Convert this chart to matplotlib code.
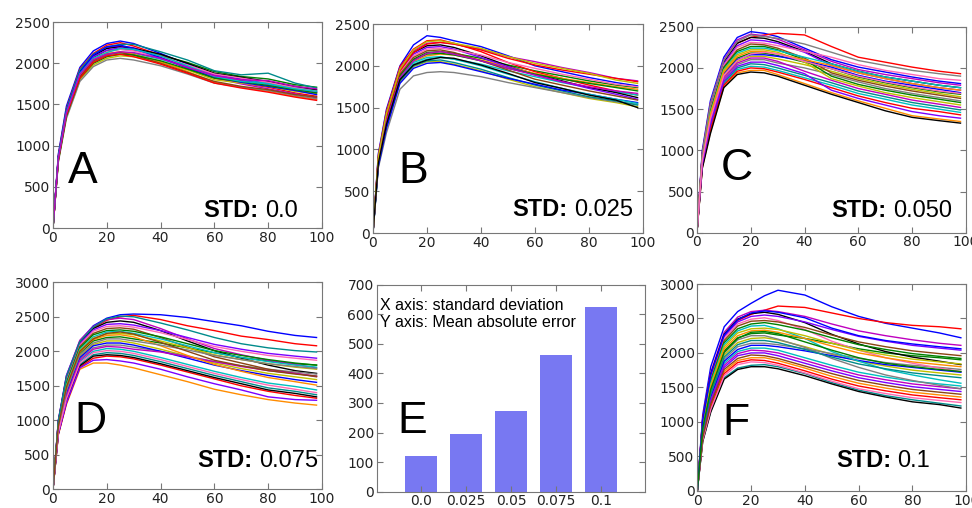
import matplotlib.pyplot as plt

# sample points along the x axis (shared by every curve)
x_pts = [0, 2, 5, 10, 15, 20, 25, 30, 40, 50, 60, 70, 80, 90, 98]

curves_a = [
    [0, 900, 1480, 1950, 2150, 2240, 2270, 2240, 2120, 1990, 1860, 1810, 1760, 1690, 1650],
    [0, 850, 1400, 1870, 2070, 2150, 2170, 2160, 2100, 2010, 1900, 1840, 1810, 1740, 1710],
    [0, 880, 1450, 1930, 2120, 2220, 2250, 2210, 2100, 1960, 1830, 1760, 1710, 1640, 1600],
    [0, 830, 1370, 1830, 2020, 2100, 2130, 2120, 2050, 1950, 1850, 1790, 1760, 1700, 1670],
    [0, 870, 1430, 1910, 2100, 2190, 2210, 2190, 2080, 1940, 1820, 1750, 1690, 1630, 1580],
    [0, 810, 1350, 1800, 1980, 2060, 2090, 2080, 2010, 1920, 1800, 1760, 1720, 1660, 1630],
    [0, 860, 1420, 1900, 2090, 2180, 2200, 2180, 2110, 2000, 1880, 1830, 1780, 1720, 1680],
    [0, 840, 1380, 1850, 2040, 2120, 2140, 2110, 2020, 1900, 1770, 1710, 1660, 1600, 1560],
    [0, 850, 1410, 1880, 2080, 2160, 2190, 2170, 2060, 1960, 1860, 1790, 1740, 1680, 1650],
    [0, 800, 1330, 1780, 1960, 2040, 2060, 2040, 1970, 1870, 1760, 1710, 1670, 1610, 1570],
    [0, 840, 1390, 1860, 2050, 2140, 2170, 2150, 2080, 1980, 1870, 1820, 1770, 1700, 1660],
    [0, 870, 1440, 1920, 2110, 2200, 2230, 2230, 2140, 2040, 1910, 1860, 1880, 1760, 1700],
    [0, 830, 1380, 1840, 2030, 2110, 2130, 2100, 2000, 1890, 1780, 1720, 1680, 1620, 1590],
    [0, 860, 1420, 1890, 2100, 2200, 2220, 2180, 2070, 1940, 1830, 1770, 1720, 1670, 1620],
    [0, 820, 1360, 1820, 2000, 2080, 2110, 2100, 2030, 1930, 1820, 1780, 1730, 1680, 1640],
    [0, 830, 1370, 1820, 2010, 2090, 2110, 2080, 1990, 1880, 1760, 1700, 1650, 1590, 1550],
    [0, 855, 1405, 1875, 2060, 2130, 2180, 2170, 2090, 1970, 1840, 1780, 1750, 1690, 1660],
    [0, 845, 1395, 1865, 2045, 2110, 2140, 2130, 2060, 1950, 1850, 1800, 1790, 1720, 1690],
]

curves_b = [
    [0, 950, 1480, 2000, 2250, 2360, 2340, 2300, 2230, 2120, 2000, 1930, 1860, 1800, 1760],
    [0, 860, 1360, 1890, 2080, 2160, 2170, 2150, 2090, 2010, 1940, 1880, 1820, 1770, 1740],
    [0, 930, 1460, 1990, 2200, 2300, 2310, 2270, 2170, 2040, 1930, 1850, 1770, 1700, 1650],
    [0, 830, 1310, 1840, 2020, 2080, 2100, 2080, 2020, 1940, 1870, 1800, 1740, 1690, 1650],
    [0, 920, 1440, 1970, 2180, 2270, 2280, 2260, 2200, 2110, 2050, 1980, 1920, 1850, 1820],
    [0, 810, 1270, 1810, 1990, 2050, 2050, 2020, 1940, 1840, 1750, 1680, 1610, 1560, 1510],
    [0, 900, 1420, 1950, 2160, 2240, 2250, 2220, 2120, 2000, 1900, 1820, 1740, 1680, 1620],
    [0, 850, 1340, 1870, 2050, 2120, 2140, 2130, 2070, 1990, 1910, 1850, 1800, 1750, 1720],
    [0, 890, 1400, 1930, 2140, 2220, 2230, 2200, 2100, 1990, 1890, 1810, 1730, 1660, 1600],
    [0, 780, 1200, 1720, 1880, 1920, 1930, 1920, 1870, 1800, 1740, 1680, 1620, 1570, 1540],
    [0, 880, 1390, 1920, 2120, 2200, 2210, 2190, 2130, 2040, 1970, 1900, 1840, 1780, 1750],
    [0, 820, 1290, 1820, 2000, 2060, 2070, 2040, 1960, 1860, 1770, 1700, 1630, 1580, 1530],
    [0, 870, 1370, 1900, 2100, 2180, 2190, 2160, 2060, 1950, 1840, 1770, 1700, 1640, 1590],
    [0, 800, 1250, 1790, 1970, 2030, 2040, 2010, 1930, 1850, 1780, 1710, 1660, 1600, 1560],
    [0, 860, 1350, 1880, 2070, 2140, 2150, 2130, 2060, 1970, 1900, 1840, 1790, 1740, 1700],
    [0, 880, 1400, 1940, 2160, 2260, 2280, 2260, 2190, 2090, 2010, 1950, 1900, 1850, 1810],
    [0, 840, 1320, 1850, 2040, 2100, 2110, 2080, 2000, 1900, 1810, 1730, 1660, 1600, 1550],
    [0, 850, 1340, 1860, 2060, 2150, 2170, 2140, 2060, 1970, 1890, 1810, 1750, 1700, 1670],
    [0, 910, 1430, 1960, 2190, 2290, 2300, 2270, 2210, 2110, 2030, 1970, 1910, 1830, 1790],
    [0, 835, 1300, 1835, 2010, 2070, 2100, 2090, 2010, 1910, 1800, 1730, 1650, 1590, 1500],
]

curves_c = [
    [0, 1000, 1600, 2130, 2370, 2440, 2420, 2380, 2240, 2100, 2010, 1950, 1890, 1840, 1810],
    [0, 880, 1410, 1940, 2120, 2180, 2180, 2150, 2070, 1990, 1890, 1820, 1760, 1710, 1680],
    [0, 950, 1550, 2080, 2300, 2370, 2400, 2420, 2400, 2260, 2130, 2070, 2010, 1960, 1930],
    [0, 810, 1270, 1800, 1980, 2020, 2010, 1970, 1880, 1790, 1690, 1620, 1550, 1500, 1460],
    [0, 980, 1570, 2100, 2340, 2410, 2390, 2350, 2220, 2080, 1980, 1920, 1870, 1820, 1790],
    [0, 860, 1370, 1900, 2080, 2140, 2140, 2110, 2040, 1960, 1870, 1800, 1740, 1690, 1650],
    [0, 960, 1540, 2070, 2300, 2370, 2360, 2320, 2200, 2050, 1960, 1890, 1840, 1790, 1760],
    [0, 790, 1220, 1770, 1940, 1970, 1970, 1920, 1810, 1700, 1600, 1510, 1420, 1380, 1350],
    [0, 950, 1520, 2050, 2270, 2340, 2330, 2300, 2190, 2030, 1940, 1870, 1810, 1760, 1730],
    [0, 840, 1330, 1860, 2040, 2100, 2100, 2060, 2000, 1920, 1830, 1750, 1690, 1640, 1600],
    [0, 940, 1500, 2030, 2250, 2310, 2300, 2270, 2200, 2130, 2040, 1970, 1920, 1870, 1850],
    [0, 820, 1290, 1820, 2000, 2050, 2040, 2000, 1910, 1820, 1720, 1650, 1580, 1530, 1490],
    [0, 930, 1480, 2010, 2220, 2290, 2280, 2240, 2120, 1940, 1850, 1780, 1720, 1670, 1630],
    [0, 870, 1390, 1920, 2100, 2160, 2160, 2140, 2090, 2010, 1910, 1840, 1790, 1740, 1700],
    [0, 920, 1470, 2000, 2200, 2260, 2260, 2220, 2100, 1900, 1800, 1730, 1670, 1620, 1580],
    [0, 800, 1250, 1790, 1960, 2000, 1990, 1950, 1860, 1760, 1660, 1580, 1510, 1470, 1430],
    [0, 910, 1450, 1980, 2180, 2240, 2240, 2210, 2130, 2050, 1960, 1890, 1840, 1790, 1760],
    [0, 850, 1350, 1880, 2060, 2120, 2120, 2080, 1960, 1850, 1750, 1680, 1610, 1560, 1520],
    [0, 900, 1440, 1970, 2160, 2220, 2220, 2190, 2070, 1870, 1780, 1700, 1640, 1590, 1550],
    [0, 780, 1200, 1760, 1920, 1950, 1940, 1900, 1790, 1680, 1580, 1480, 1400, 1360, 1330],
    [0, 890, 1420, 1950, 2140, 2200, 2200, 2170, 2100, 2030, 1940, 1870, 1810, 1760, 1730],
    [0, 830, 1310, 1840, 2020, 2070, 2070, 2030, 1930, 1730, 1630, 1550, 1470, 1420, 1390],
    [0, 965, 1560, 2090, 2320, 2400, 2380, 2360, 2290, 2190, 2090, 2030, 1970, 1930, 1900],
    [0, 875, 1380, 1910, 2090, 2170, 2190, 2170, 2080, 1990, 1900, 1830, 1770, 1720, 1690],
]

curves_d = [
    [0, 1000, 1650, 2150, 2370, 2480, 2530, 2540, 2530, 2490, 2430, 2370, 2290, 2230, 2200],
    [0, 900, 1450, 1970, 2150, 2200, 2210, 2180, 2120, 2050, 1980, 1910, 1860, 1820, 1800],
    [0, 980, 1620, 2120, 2340, 2450, 2500, 2520, 2460, 2370, 2300, 2220, 2170, 2110, 2080],
    [0, 840, 1330, 1850, 2000, 2040, 2030, 2000, 1910, 1810, 1710, 1620, 1540, 1490, 1440],
    [0, 1000, 1640, 2160, 2360, 2460, 2480, 2460, 2330, 2180, 2040, 1950, 1870, 1810, 1760],
    [0, 880, 1410, 1930, 2100, 2150, 2150, 2120, 2030, 1930, 1830, 1750, 1680, 1630, 1590],
    [0, 980, 1610, 2130, 2330, 2420, 2440, 2420, 2300, 2150, 2010, 1900, 1800, 1720, 1680],
    [0, 790, 1230, 1740, 1830, 1830, 1800, 1760, 1660, 1560, 1450, 1370, 1300, 1250, 1220],
    [0, 970, 1590, 2110, 2310, 2390, 2400, 2380, 2300, 2200, 2100, 2030, 1970, 1930, 1900],
    [0, 860, 1370, 1890, 2050, 2090, 2090, 2060, 2000, 1930, 1850, 1790, 1740, 1700, 1670],
    [0, 960, 1570, 2090, 2290, 2360, 2370, 2350, 2270, 2170, 2070, 2000, 1940, 1900, 1870],
    [0, 820, 1290, 1810, 1950, 1980, 1970, 1940, 1850, 1750, 1650, 1560, 1470, 1420, 1370],
    [0, 950, 1550, 2070, 2260, 2330, 2340, 2320, 2200, 2060, 1920, 1830, 1740, 1680, 1630],
    [0, 870, 1390, 1910, 2080, 2120, 2120, 2090, 2000, 1900, 1800, 1720, 1650, 1590, 1550],
    [0, 940, 1530, 2050, 2240, 2300, 2310, 2290, 2210, 2110, 2010, 1940, 1880, 1830, 1800],
    [0, 800, 1250, 1770, 1900, 1930, 1920, 1890, 1800, 1700, 1600, 1500, 1420, 1360, 1320],
    [0, 930, 1510, 2030, 2210, 2280, 2290, 2260, 2180, 2080, 1980, 1910, 1850, 1800, 1770],
    [0, 850, 1350, 1870, 2030, 2070, 2060, 2030, 1990, 1920, 1850, 1780, 1720, 1680, 1640],
    [0, 920, 1490, 2010, 2190, 2250, 2260, 2240, 2150, 2050, 1950, 1880, 1820, 1770, 1740],
    [0, 810, 1270, 1790, 1930, 1950, 1940, 1910, 1820, 1720, 1620, 1530, 1440, 1390, 1340],
    [0, 910, 1470, 1990, 2170, 2230, 2240, 2210, 2080, 1940, 1810, 1710, 1620, 1560, 1510],
    [0, 800, 1250, 1760, 1870, 1880, 1860, 1830, 1740, 1630, 1530, 1440, 1340, 1300, 1290],
    [0, 890, 1430, 1950, 2120, 2180, 2180, 2150, 2090, 2020, 1940, 1880, 1820, 1780, 1750],
    [0, 830, 1310, 1830, 1980, 2010, 2000, 1970, 1880, 1780, 1680, 1590, 1510, 1450, 1400],
    [0, 990, 1630, 2140, 2350, 2470, 2510, 2500, 2410, 2310, 2200, 2110, 2050, 2010, 1990],
    [0, 915, 1480, 2000, 2180, 2260, 2280, 2250, 2130, 2000, 1870, 1790, 1720, 1670, 1640],
]

curves_f = [
    [0, 1100, 1800, 2380, 2600, 2720, 2830, 2910, 2840, 2670, 2530, 2430, 2360, 2290, 2220],
    [0, 910, 1480, 2030, 2220, 2280, 2290, 2260, 2210, 2140, 2060, 2000, 1960, 1930, 1900],
    [0, 1050, 1700, 2250, 2470, 2560, 2620, 2680, 2660, 2580, 2500, 2440, 2400, 2380, 2350],
    [0, 820, 1330, 1850, 2020, 2070, 2070, 2040, 1930, 1820, 1720, 1650, 1590, 1550, 1520],
    [0, 1050, 1720, 2300, 2520, 2600, 2620, 2600, 2530, 2420, 2320, 2250, 2190, 2140, 2110],
    [0, 880, 1430, 1970, 2150, 2210, 2220, 2190, 2090, 1980, 1880, 1810, 1750, 1710, 1680],
    [0, 1030, 1690, 2270, 2490, 2570, 2590, 2560, 2440, 2270, 2130, 2020, 1940, 1880, 1830],
    [0, 760, 1230, 1730, 1890, 1930, 1930, 1890, 1780, 1660, 1560, 1490, 1430, 1390, 1360],
    [0, 1010, 1660, 2240, 2450, 2530, 2550, 2530, 2450, 2340, 2240, 2170, 2110, 2070, 2040],
    [0, 850, 1380, 1910, 2090, 2140, 2140, 2120, 2060, 1990, 1920, 1860, 1820, 1790, 1760],
    [0, 1000, 1630, 2210, 2420, 2490, 2510, 2470, 2340, 2170, 2040, 1930, 1850, 1780, 1730],
    [0, 720, 1160, 1640, 1780, 1820, 1830, 1800, 1700, 1570, 1460, 1380, 1320, 1270, 1230],
    [0, 980, 1610, 2180, 2390, 2460, 2470, 2450, 2370, 2260, 2160, 2090, 2030, 1990, 1960],
    [0, 830, 1360, 1880, 2050, 2110, 2110, 2090, 2030, 1960, 1890, 1830, 1790, 1750, 1720],
    [0, 970, 1580, 2150, 2350, 2420, 2440, 2410, 2330, 2220, 2120, 2050, 1990, 1950, 1920],
    [0, 740, 1210, 1700, 1860, 1900, 1890, 1850, 1740, 1620, 1520, 1450, 1390, 1350, 1320],
    [0, 950, 1560, 2120, 2320, 2390, 2400, 2350, 2210, 2020, 1880, 1760, 1680, 1610, 1560],
    [0, 800, 1310, 1820, 1990, 2040, 2030, 2000, 1890, 1780, 1680, 1610, 1550, 1510, 1480],
    [0, 940, 1530, 2090, 2290, 2350, 2360, 2340, 2250, 2140, 2040, 1970, 1910, 1870, 1840],
    [0, 710, 1140, 1620, 1760, 1800, 1800, 1770, 1670, 1550, 1440, 1360, 1290, 1250, 1200],
    [0, 920, 1510, 2060, 2250, 2320, 2330, 2300, 2210, 2100, 2000, 1930, 1870, 1830, 1800],
    [0, 790, 1280, 1790, 1960, 2000, 2000, 1960, 1850, 1740, 1640, 1570, 1510, 1470, 1440],
    [0, 890, 1460, 2000, 2190, 2250, 2250, 2200, 2080, 1920, 1790, 1680, 1600, 1530, 1480],
    [0, 730, 1180, 1670, 1830, 1870, 1860, 1820, 1710, 1590, 1480, 1410, 1350, 1310, 1280],
    [0, 860, 1410, 1940, 2120, 2180, 2180, 2150, 2050, 1940, 1840, 1770, 1710, 1670, 1640],
    [0, 770, 1260, 1760, 1920, 1970, 1960, 1920, 1810, 1700, 1600, 1530, 1470, 1430, 1400],
    [0, 1020, 1680, 2260, 2480, 2580, 2610, 2590, 2510, 2360, 2250, 2180, 2130, 2090, 2060],
    [0, 905, 1470, 2010, 2210, 2300, 2310, 2280, 2160, 2040, 1930, 1850, 1800, 1760, 1730],
]

std_labels = ['0.0', '0.025', '0.05', '0.075', '0.1']
mae_values = [122, 195, 273, 463, 623]

# odd-length colour cycle so neighbouring curves get mixed colours
line_colors = ['#0000ff', '#008000', '#ff0000', '#00bfbf', '#bf00bf', '#bfbf00', '#000000',
               '#ff8c00', '#7b00ff', '#808080', '#ff69b4', '#008b8b', '#8b4513']

fig = plt.figure(figsize=(9.72, 5.08), dpi=100)

# [left, bottom, width, height], curves, letter, letter pos, std text, std text pos, ymax
panels = [
    ([0.0545, 0.551, 0.2767, 0.4055], curves_a, 'A', (0.056, 0.22), '0.0', (0.91, 0.053), 2500),
    ([0.3837, 0.5413, 0.2778, 0.4114], curves_b, 'B', (0.093, 0.24), '0.025', (0.963, 0.081), 2500),
    ([0.717, 0.5419, 0.2767, 0.4055], curves_c, 'C', (0.089, 0.257), '0.050', (0.948, 0.078), 2500),
    ([0.0545, 0.0368, 0.2767, 0.4075], curves_d, 'D', (0.078, 0.273), '0.075', (0.985, 0.106), 3000),
    ([0.7174, 0.034, 0.2767, 0.4069], curves_f, 'F', (0.094, 0.27), '0.1', (0.865, 0.116), 3000),
]


def style_axes(ax):
    for s in ax.spines.values():
        s.set_color('#777777')
    ax.tick_params(direction='in', top=True, right=True, length=4, labelsize=10,
                   colors='#777777', labelcolor='#222222', pad=2)


for rect, curves, letter, lpos, std, spos, ymax in panels:
    ax = fig.add_axes(rect)
    for i, c in enumerate(curves):
        ax.plot(x_pts, c, color=line_colors[i % len(line_colors)], lw=1.0)
    ax.set_xlim(0, 100)
    ax.set_ylim(0, ymax)
    ax.set_xticks(range(0, 101, 20))
    ax.set_yticks(range(0, ymax + 1, 500))
    style_axes(ax)
    ax.text(lpos[0], lpos[1], letter, transform=ax.transAxes, fontsize=32,
            family='Liberation Sans', ha='left', va='baseline')
    num = ax.text(spos[0], spos[1], std, transform=ax.transAxes, fontsize=17,
                  family='Liberation Sans', ha='right', va='baseline')
    ax.annotate('STD:', xy=(0, 0), xycoords=num, xytext=(-4.5, 0), textcoords='offset points',
                fontsize=17, family='Liberation Sans', fontweight='bold', ha='right', va='bottom')

# panel E: bar chart of mean absolute error
axe = fig.add_axes([0.3875, 0.0321, 0.2757, 0.4075])
axe.bar(range(len(mae_values)), mae_values, width=0.72, color='#7878f2', edgecolor='none')
axe.set_xlim(-0.99, 4.97)
axe.set_ylim(0, 700)
axe.set_xticks(range(len(std_labels)))
axe.set_xticklabels(std_labels)
axe.set_yticks(range(0, 701, 100))
style_axes(axe)
axe.text(0.012, 0.935, 'X axis: standard deviation\nY axis: Mean absolute error',
         transform=axe.transAxes, fontsize=11.5, family='Liberation Sans',
         ha='left', va='top', linespacing=1.15)
axe.text(0.079, 0.285, 'E', transform=axe.transAxes, fontsize=32,
         family='Liberation Sans', ha='left', va='baseline')

fig.savefig('out.png', dpi=100)
